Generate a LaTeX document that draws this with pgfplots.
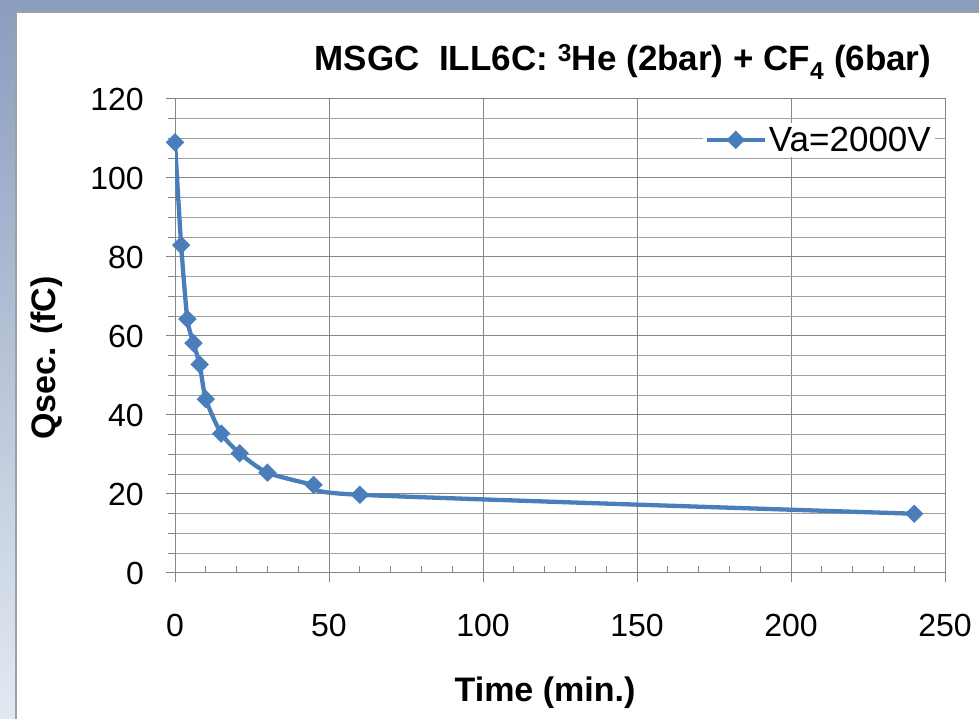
\documentclass[border=0pt]{standalone}
\usepackage{pgfplots}
\pgfplotsset{compat=1.18}
\usepackage{fontspec}
\setmainfont{Liberation Sans}
\definecolor{excelblue}{RGB}{74,126,187}
\definecolor{gridgray}{RGB}{134,134,134}
\definecolor{mgridgray}{RGB}{160,160,160}
\definecolor{bgtop}{RGB}{138,157,190}
\definecolor{bgbot}{RGB}{226,233,242}
\begin{document}
\begin{tikzpicture}[x=1pt,y=1pt]
\useasboundingbox (0,0) rectangle (979,719);
\shade[top color=bgtop, bottom color=bgbot] (0,0) rectangle (979,719);
\fill[white] (16,0) rectangle (979,707);
\draw[color=mgridgray, line width=1.5pt] (16,0) -- (16,707) -- (979,707);
\begin{axis}[
  at={(175pt,146pt)}, anchor=south west,
  scale only axis, width=770pt, height=474pt,
  xmin=0, xmax=250, ymin=0, ymax=120,
  xtick={0,50,...,250}, ytick={0,20,...,120},
  minor x tick num=4, minor y tick num=3,
  yminorticks=false,
  xmajorgrids, ymajorgrids, yminorgrids,
  major grid style={gridgray, line width=1pt},
  minor grid style={mgridgray, line width=1pt},
  axis line style={gridgray, line width=1pt},
  tick style={gridgray, line width=1pt},
  tick align=outside,
  tickpos=left,
  major tick length=9pt,
  minor tick length=7pt,
  minor x tick style={yshift=7pt},
  ticklabel style={font=\fontsize{32}{38}\selectfont},
  /pgf/number format/assume math mode=true,
  xticklabel style={inner sep=0pt, anchor=north, yshift=-32pt},
  yticklabel style={inner sep=0pt, anchor=east, xshift=-22pt},
  legend style={at={(0.987,0.95)}, anchor=north east, draw=none, fill=white,
    font=\fontsize{35}{40}\selectfont, inner sep=2pt},
  legend image code/.code={\draw[mark repeat=2, mark phase=2, #1]
     plot coordinates {(0pt,0pt) (29pt,0pt) (58pt,0pt)};},
]
\addplot[excelblue, line width=4.3pt, smooth, tension=0.4,
  mark=square*, mark size=6pt, mark options={rotate=45, solid, line width=1pt, fill=excelblue}]
  coordinates {
  (0,109) (2,83) (4,64.3) (6,58.2) (8,52.8) (10,44) (15,35.3) (21,30.3)
  (30,25.4) (45,22.3) (60,19.8) (240,15)
  };
\addlegendentry{Va=2000V}
\end{axis}
\node[font=\bfseries\fontsize{35}{40}\selectfont, anchor=base] at (623,648)
  {MSGC\ \ ILL6C: \textsuperscript{3}He (2bar) + CF\textsubscript{4} (6bar)};
\node[font=\bfseries\fontsize{34}{40}\selectfont, anchor=base] at (545,17) {Time (min.)};
\node[font=\bfseries\fontsize{34}{40}\selectfont, rotate=90] at (47,361) {Qsec. (fC)};
\end{tikzpicture}
\end{document}
